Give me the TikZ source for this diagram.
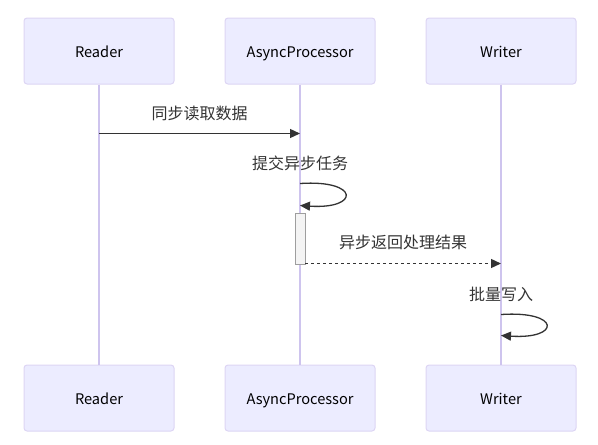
\documentclass[tikz,border=0pt]{standalone}
\usepackage{fontspec}
\setmainfont{Noto Sans CJK SC}
\usepackage{xcolor}
\usetikzlibrary{positioning, arrows.meta, calc}
\definecolor{actorfill}{HTML}{ECECFF}
\definecolor{actorline}{HTML}{DDD5F4}
\definecolor{lifeline}{HTML}{CEC4EE}
\definecolor{msgcol}{HTML}{333333}
\definecolor{actfill}{HTML}{F4F4F4}
\definecolor{actline}{HTML}{9E9E9E}

\begin{document}
\begin{tikzpicture}[x=1pt, y=-1pt, node distance=50pt,
	actor/.style={draw=actorline, fill=actorfill, rounded corners=3pt, line width=1pt, minimum width=150pt, minimum height=66pt, text height=13pt, text depth=0pt, font=\fontsize{14.6}{16}\selectfont},
	msg/.style={draw=msgcol, line width=1.3pt, -{Triangle[length=10pt,width=9pt]}},
	msglabel/.style={font=\fontsize{16}{18}\selectfont, text=msgcol}]
	\useasboundingbox (0,0) rectangle (598,445);
	% Define the actors (top row)
	\node[actor] (reader) at (99,51) {Reader};
	\node[actor, right=of reader] (proc) {AsyncProcessor};
	\node[actor, right=of proc] (writer) {Writer};
	
	% Define the actors (bottom row)
	\node[actor, below=280pt of reader] (readerB) {Reader};
	\node[actor, below=280pt of proc] (procB) {AsyncProcessor};
	\node[actor, below=280pt of writer] (writerB) {Writer};
	
	% Lifelines
	\draw[lifeline, line width=1.4pt] (reader.south) -- (readerB.north);
	\draw[lifeline, line width=1.4pt] (proc.south) -- (procB.north);
	\draw[lifeline, line width=1.4pt] (writer.south) -- (writerB.north);
	
	% Points on the lifelines
	\coordinate (m1s) at ($(reader.south)+(0,49)$);
	\coordinate (m1e) at ($(proc.south)+(0,49)$);
	\coordinate (m2s) at ($(proc.south)+(0,99)$);
	\coordinate (m2e) at ($(proc.south)+(0,121)$);
	\coordinate (m3s) at ($(proc.south)+(5,179)$);
	\coordinate (m3e) at ($(writer.south)+(0,179)$);
	\coordinate (m4s) at ($(writer.south)+(0,230)$);
	\coordinate (m4e) at ($(writer.south)+(0,251)$);
	
	% Activation bar
	\draw[actline, fill=actfill, line width=1pt] ($(proc.south)+(-5,129)$) rectangle ($(proc.south)+(5,180)$);
	
	% Define the messages
	\draw[msg] (m1s) -- (m1e);
	\draw[msg] (m2s) .. controls ($(m2s)+(60,-4)$) and ($(m2e)+(60,4)$) .. (m2e);
	\draw[msg, dash pattern=on 3pt off 3pt] (m3s) -- (m3e);
	\draw[msg] (m4s) .. controls ($(m4s)+(60,-4)$) and ($(m4e)+(60,4)$) .. (m4e);
	
	% Message labels
	\node[msglabel] (l1) at ($(m1s)!0.5!(m1e)+(0,-20)$) {同步读取数据};
	\node[msglabel] (l2) at ($(m2s)+(0,-20)$) {提交异步任务};
	\node[msglabel] (l3) at ($(m3s)!0.5!(m3e)+(0,-21)$) {异步返回处理结果};
	\node[msglabel] (l4) at ($(m4s)+(0,-20)$) {批量写入};
\end{tikzpicture}
\end{document}
